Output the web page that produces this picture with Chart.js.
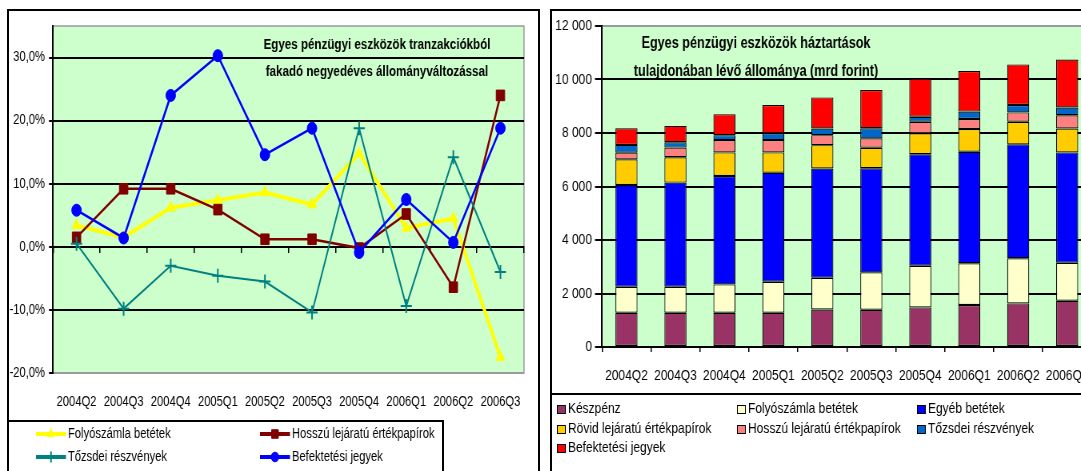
<!DOCTYPE html>
<html>
<head>
<meta charset="utf-8">
<script src="https://cdn.jsdelivr.net/npm/chart.js@4.4.1/dist/chart.umd.min.js"></script>
<style>
html, body { margin: 0; padding: 0; background: #fff; overflow: hidden; }
body { width: 1081px; height: 471px; position: relative; }
.keret { position: absolute; border: 2px solid #000; box-sizing: border-box; }
canvas { position: absolute; top: 0; }
</style>
</head>
<body>
<div class="keret" style="left:7px;top:9px;width:533px;height:520px"></div>
<div class="keret" style="left:7px;top:420px;width:437px;height:100px"></div>
<div class="keret" style="left:550px;top:9px;width:600px;height:520px"></div>
<div class="keret" style="left:550px;top:393px;width:600px;height:100px"></div>
<canvas id="valtozas" width="675" height="471" style="left:0;width:540px;height:471px"></canvas>
<canvas id="allomany" width="700" height="471" style="left:541px;width:560px;height:471px"></canvas>

<script>
// negyedévek
const negyedevek = ['2004Q2', '2004Q3', '2004Q4', '2005Q1', '2005Q2', '2005Q3', '2005Q4', '2006Q1', '2006Q2', '2006Q3'];

// bal ábra: negyedéves állományváltozás (%)
const folyoszamlaValt  = [3.4, 1.5, 6.2, 7.4, 8.6, 6.7, 14.8, 3.0, 4.5, -17.5];
const hosszuValt       = [1.5, 9.2, 9.2, 5.9, 1.2, 1.2, -0.2, 5.2, -6.4, 24.0];
const tozsdeiValt      = [0.5, -9.8, -3.0, -4.6, -5.5, -10.4, 18.8, -9.4, 14.2, -4.0];
const befektetesiValt  = [5.8, 1.4, 24.0, 30.3, 14.6, 18.8, -0.9, 7.5, 0.7, 18.8];
const valtozasTickek   = [-20, -10, 0, 10, 20, 30];

// jobb ábra: állomány (mrd forint)
const keszpenz     = [1280, 1280, 1280, 1280, 1400, 1390, 1480, 1570, 1630, 1730];
const folyoszamla  = [975, 975, 1060, 1160, 1185, 1400, 1555, 1560, 1685, 1420];
const egyebBetet   = [3800, 3890, 4050, 4075, 4090, 3890, 4175, 4170, 4260, 4125];
const rovidPapir   = [960, 950, 885, 760, 870, 770, 775, 850, 845, 895];
const hosszuPapir  = [250, 360, 460, 460, 375, 350, 435, 375, 350, 495];
const tozsdei      = [290, 200, 185, 250, 250, 375, 185, 275, 275, 290];
const befektetesi  = [625, 610, 785, 1060, 1160, 1430, 1435, 1520, 1520, 1795];
const allomanyTickek = [0, 2000, 4000, 6000, 8000, 10000, 12000];

// az eredeti kép vízszintesen össze van nyomva: a vásznat szélesebben rajzoljuk, CSS-sel szűkítjük
const K = 0.8;
const h = px => px / K;

const betu = '"Liberation Sans", Arial, sans-serif';
Chart.defaults.font.family = betu;
Chart.defaults.font.size = 14;
Chart.defaults.color = '#000';

// háttér, cím és jelmagyarázat
const deko = {
    id: 'deko',
    beforeDraw(chart, args, o) {
        const ctx = chart.ctx, a = chart.chartArea;
        ctx.save();
        ctx.fillStyle = '#CCFFCC';
        ctx.fillRect(a.left, a.top, a.right - a.left, a.bottom - a.top);
        ctx.strokeStyle = '#9a9a9a';
        ctx.lineWidth = 1.5;
        ctx.strokeRect(a.left, a.top, a.right - a.left, a.bottom - a.top);
        ctx.restore();
    },
    afterDraw(chart, args, o) {
        const ctx = chart.ctx;
        ctx.save();
        ctx.fillStyle = '#000';
        ctx.textAlign = 'center';
        ctx.textBaseline = 'middle';
        ctx.font = 'bold ' + o.cimMeret + 'px ' + betu;
        o.cim.forEach((sor, i) => ctx.fillText(sor, o.cimX, o.cimY[i]));

        const L = o.jelmag;
        ctx.font = L.meret + 'px ' + betu;
        ctx.textAlign = 'left';
        chart.data.datasets.forEach((ds, i) => {
            const x = L.oszlop[i % L.oszlop.length];
            const y = L.sor[Math.floor(i / L.oszlop.length)];
            if (chart.config.type === 'line') {
                ctx.strokeStyle = ds.borderColor;
                ctx.lineWidth = 4;
                ctx.beginPath();
                ctx.moveTo(x, y);
                ctx.lineTo(x + h(30), y);
                ctx.stroke();
                ctx.fillStyle = ds.pointBackgroundColor;
                ctx.strokeStyle = ds.pointBorderColor;
                ctx.lineWidth = ds.pointBorderWidth;
                Chart.helpers.drawPoint(ctx, {
                    pointStyle: ds.pointStyle, radius: ds.pointRadius * 0.8,
                    borderWidth: ds.pointBorderWidth, rotation: 0
                }, x + h(15), y);
                ctx.fillStyle = '#000';
                ctx.fillText(ds.label, x + h(32), y);
            } else {
                ctx.fillStyle = ds.backgroundColor;
                ctx.fillRect(x, y - 4, h(8), 8);
                ctx.strokeStyle = '#000';
                ctx.lineWidth = 1;
                ctx.strokeRect(x + 0.5, y - 3.5, h(8), 8);
                ctx.fillStyle = '#000';
                ctx.fillText(ds.label, x + h(11), y);
            }
        });
        ctx.restore();
    }
};

function vonal(cimke, adat, szin, vastag, stilus, meret, keretVastag, sorrend) {
    return {
        label: cimke, data: adat,
        borderColor: szin, backgroundColor: szin, borderWidth: vastag,
        pointStyle: stilus, pointRadius: meret, pointHoverRadius: meret,
        pointBackgroundColor: szin, pointBorderColor: szin, pointBorderWidth: keretVastag,
        tension: 0, order: sorrend
    };
}

new Chart(document.getElementById('valtozas'), {
    type: 'line',
    data: {
        labels: negyedevek,
        datasets: [
            vonal('Folyószámla betétek', folyoszamlaValt, '#FFFF00', 4, 'triangle', 6.5, 1, 4),
            vonal('Hosszú lejáratú értékpapírok', hosszuValt, '#800000', 2.5, 'rect', 7.5, 1, 3),
            vonal('Tőzsdei részvények', tozsdeiValt, '#008080', 2, 'cross', 7, 2, 2),
            vonal('Befektetési jegyek', befektetesiValt, '#0000FF', 2.5, 'circle', 6, 1, 1)
        ]
    },
    options: {
        responsive: false,
        animation: false,
        devicePixelRatio: 1,
        layout: { padding: { left: 0, right: h(16), top: 26, bottom: 0 } },
        plugins: {
            legend: { display: false },
            tooltip: { enabled: false },
            deko: {
                cim: ['Egyes pénzügyi eszközök tranzakciókból', 'fakadó negyedéves állományváltozással'],
                cimX: h(377), cimY: [45, 72], cimMeret: 14.5,
                jelmag: { oszlop: [h(36), h(260)], sor: [434, 457], meret: 14 }
            }
        },
        scales: {
            x: {
                offset: true,
                grid: { display: false, drawTicks: false },
                border: { display: false },
                ticks: { padding: 21, maxRotation: 0, autoSkip: false },
                afterFit: s => { s.height = 98; }
            },
            x2: {
                type: 'category',
                labels: negyedevek,
                position: { y: 0 },
                offset: true,
                grid: { drawOnChartArea: false, drawTicks: true, tickLength: 5, color: '#000', lineWidth: 1.5, offset: true },
                border: { color: '#000', width: 2 },
                ticks: { display: false }
            },
            y: {
                min: -20, max: 35,
                afterBuildTicks: s => { s.ticks = valtozasTickek.map(v => ({ value: v })); },
                grid: {
                    color: c => (c.tick && c.tick.value === -20) ? '#9a9a9a' : '#000',
                    tickColor: '#000', lineWidth: 2, tickLength: h(4)
                },
                border: { color: '#000', width: 2 },
                ticks: { padding: h(4), callback: v => v.toFixed(1).replace('.', ',') + '%' },
                afterFit: s => { s.width = h(53); }
            }
        }
    },
    plugins: [deko]
});

function oszlop(cimke, adat, szin) {
    return { label: cimke, data: adat, backgroundColor: szin, borderColor: '#000', borderWidth: 1.2, borderSkipped: false };
}

new Chart(document.getElementById('allomany'), {
    type: 'bar',
    data: {
        labels: negyedevek,
        datasets: [
            oszlop('Készpénz', keszpenz, '#993366'),
            oszlop('Folyószámla betétek', folyoszamla, '#FFFFCC'),
            oszlop('Egyéb betétek', egyebBetet, '#0000FF'),
            oszlop('Rövid lejáratú értékpapírok', rovidPapir, '#FFCC00'),
            oszlop('Hosszú lejáratú értékpapírok', hosszuPapir, '#FF8080'),
            oszlop('Tőzsdei részvények', tozsdei, '#0066CC'),
            oszlop('Befektetési jegyek', befektetesi, '#FF0000')
        ]
    },
    options: {
        responsive: false,
        animation: false,
        devicePixelRatio: 1,
        barPercentage: 0.45,
        categoryPercentage: 1,
        layout: { padding: { left: 0, right: 700 - h(1092 - 541), top: 26, bottom: 0 } },
        plugins: {
            legend: { display: false },
            tooltip: { enabled: false },
            deko: {
                cim: ['Egyes pénzügyi eszközök háztartások', 'tulajdonában lévő állománya (mrd forint)'],
                cimX: h(756 - 541), cimY: [44, 72], cimMeret: 15.8,
                jelmag: { oszlop: [h(16), h(196), h(376)], sor: [409, 429, 448], meret: 15 }
            }
        },
        scales: {
            x: {
                stacked: true,
                offset: true,
                grid: { drawOnChartArea: false, drawTicks: true, tickLength: 5, color: '#000', lineWidth: 1.5, offset: true },
                border: { color: '#000', width: 2 },
                ticks: { padding: 15, maxRotation: 0, autoSkip: false, font: { size: 15 } },
                afterFit: s => { s.height = 124; }
            },
            y: {
                stacked: true,
                min: 0, max: 12000,
                afterBuildTicks: s => { s.ticks = allomanyTickek.map(v => ({ value: v })); },
                grid: {
                    color: c => (c.tick && c.tick.value === 12000) ? '#9a9a9a' : '#000',
                    tickColor: '#000', lineWidth: 2, tickLength: h(7)
                },
                border: { color: '#000', width: 2 },
                ticks: { padding: h(3), font: { size: 15 }, callback: v => String(v).replace(/\B(?=(\d{3})+(?!\d))/g, ' ') },
                afterFit: s => { s.width = h(602 - 541); }
            }
        }
    },
    plugins: [deko]
});
</script>
</body>
</html>
